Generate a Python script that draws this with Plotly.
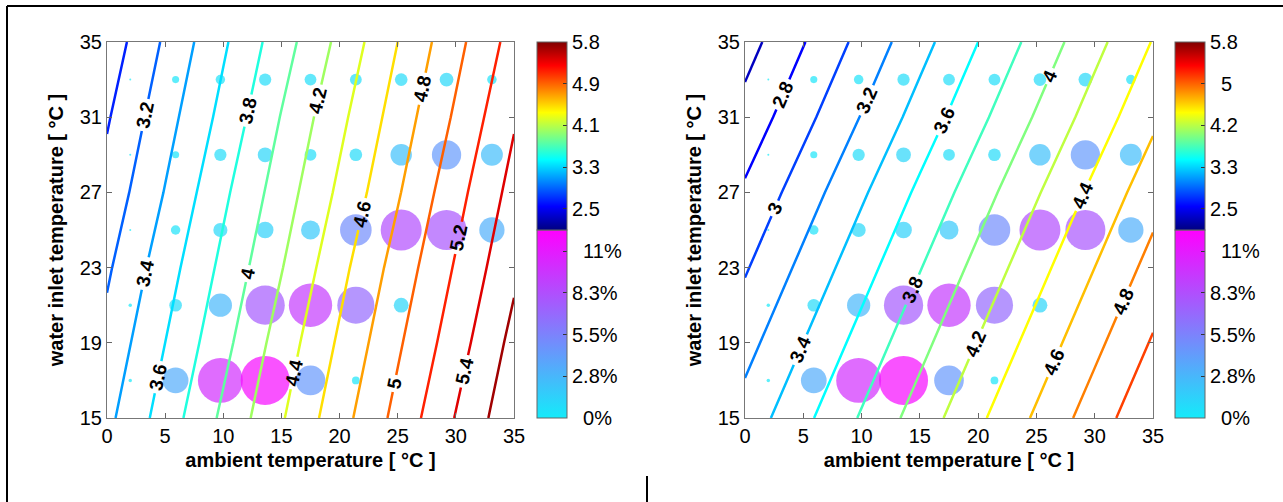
import plotly.graph_objects as go

W, H = 1283, 502
FONT = "Liberation Sans, Arial, sans-serif"

# ---- contour field (COP) ----
amb_grid = [0, 5, 10, 15, 20, 25, 30, 35]
inlet_grid = [15, 19, 23, 27, 31, 35]

cop_left = [
    [3.35, 3.69, 4.04, 4.38, 4.72, 5.06, 5.41, 5.75],
    [3.26, 3.60, 3.94, 4.29, 4.63, 4.97, 5.31, 5.66],
    [3.17, 3.51, 3.85, 4.19, 4.54, 4.88, 5.22, 5.56],
    [3.07, 3.41, 3.76, 4.10, 4.44, 4.78, 5.13, 5.47],
    [2.98, 3.32, 3.66, 4.01, 4.35, 4.69, 5.03, 5.38],
    [2.88, 3.23, 3.57, 3.91, 4.25, 4.60, 4.94, 5.28],
]
cop_right = [
    [3.28, 3.55, 3.82, 4.09, 4.36, 4.63, 4.90, 5.17],
    [3.13, 3.40, 3.67, 3.94, 4.21, 4.48, 4.75, 5.02],
    [2.98, 3.25, 3.52, 3.79, 4.06, 4.33, 4.60, 4.87],
    [2.83, 3.10, 3.37, 3.64, 3.91, 4.18, 4.45, 4.72],
    [2.67, 2.94, 3.21, 3.48, 3.75, 4.02, 4.29, 4.56],
    [2.52, 2.79, 3.06, 3.33, 3.60, 3.87, 4.14, 4.41],
]

# ---- bubbles: share of operating hours [%] ----
bubble_amb = [2.0, 5.9, 9.75, 13.6, 17.5, 21.4, 25.3, 29.2, 33.1]
bubble_inlet = [17, 21, 25, 29, 33]
share = [
    [0.06, 3.3, 10.1, 12.0, 4.4, 0.3, 0, 0, 0],
    [0.06, 0.8, 2.7, 7.7, 9.4, 6.9, 1.1, 0, 0],
    [0.02, 0.45, 1.0, 1.4, 1.8, 5.0, 8.4, 8.0, 3.2],
    [0.02, 0.25, 0.75, 1.1, 0.7, 0.8, 2.3, 4.3, 2.4],
    [0.02, 0.25, 0.45, 0.75, 0.7, 0.7, 0.8, 0.95, 0.45],
]

# ---- colorbar tick labels ----
cop_ticks = [2.5, 3.325, 4.15, 4.975, 5.8]
cop_ticktext_left = ["2.5", "3.3", "4.1", "4.9", "5.8"]
cop_ticktext_right = ["2.5", "3.3", "4.2", "\u00a0\u00a05", "5.8"]
share_ticks = [0, 2.775, 5.55, 8.325, 11.1]
share_ticktext = ["\u00a0\u00a00%", "2.8%", "5.5%", "8.3%", "\u00a0\u00a011%"]

x_ticks = [0, 5, 10, 15, 20, 25, 30, 35]
y_ticks = [15, 19, 23, 27, 31, 35]

jet = [[0, "rgb(0,0,128)"], [0.125, "rgb(0,0,255)"], [0.375, "rgb(0,255,255)"],
       [0.625, "rgb(255,255,0)"], [0.875, "rgb(255,0,0)"], [1, "rgb(128,0,0)"]]
cool = [[0, "rgb(20,235,250)"], [1, "rgb(255,0,255)"]]

bx, by, bv = [], [], []
for i, yy in enumerate(bubble_inlet):
    for j, xx in enumerate(bubble_amb):
        if share[i][j] > 0:
            bx.append(xx); by.append(yy); bv.append(share[i][j])


def px_x(p):
    return p / W


def px_y(p):
    return 1 - p / H


panels = [
    dict(xa="x", ya="y", xo="x3", yo="y3", z=cop_left, zmin=2.5, zmax=5.75,
         cbx=537, ticktext=cop_ticktext_left, dom=[107, 514]),
    dict(xa="x2", ya="y2", xo="x4", yo="y4", z=cop_right, zmin=2.4, zmax=5.75,
         cbx=1175, ticktext=cop_ticktext_right, dom=[745, 1153]),
]

fig = go.Figure()
tickfont = dict(size=20, family=FONT, color="black")

for p in panels:
    cb_common = dict(x=px_x(p["cbx"]), xanchor="left", xpad=0, ypad=0,
                     lenmode="pixels", len=188, thicknessmode="pixels", thickness=30,
                     outlinewidth=1, outlinecolor="#666", ticks="inside", ticklen=4,
                     tickcolor="#333", tickfont=tickfont, yanchor="top")
    # bubbles
    fig.add_trace(go.Scatter(
        x=bx, y=by, mode="markers", xaxis=p["xa"], yaxis=p["ya"], hoverinfo="skip",
        marker=dict(size=bv, sizemode="area", sizeref=0.01, color=bv,
                    colorscale=cool, cmin=0, cmax=12.5, line=dict(width=0),
                    showscale=True,
                    colorbar=dict(cb_common, y=px_y(230), tickvals=share_ticks,
                                  ticktext=share_ticktext))))
    # colorbar for COP (jet)
    fig.add_trace(go.Scatter(
        x=[None], y=[None], mode="markers", xaxis=p["xa"], yaxis=p["ya"], hoverinfo="skip",
        marker=dict(color=[3.0], colorscale=jet, cmin=2.084, cmax=5.8, showscale=True,
                    colorbar=dict(cb_common, y=px_y(42), tickvals=cop_ticks,
                                  ticktext=p["ticktext"]))))
    # contour lines on top (overlay axes)
    fig.add_trace(go.Contour(
        x=amb_grid, y=inlet_grid, z=p["z"], xaxis=p["xo"], yaxis=p["yo"],
        autocontour=False,
        contours=dict(start=2.0, end=6.0, size=0.2, coloring="lines", showlabels=True,
                      labelfont=dict(size=19, color="black", family=FONT, weight="bold"),
                      labelformat=".2~g"),
        colorscale=jet, zmin=p["zmin"], zmax=p["zmax"], zauto=False,
        line=dict(width=2.5, smoothing=0), showscale=False, hoverinfo="skip"))

axis_title_font = dict(size=20, family=FONT, color="black", weight="bold")


def xaxis(dom):
    return dict(domain=[px_x(dom[0]), px_x(dom[1])], range=[0, 35], tickvals=x_ticks,
                ticks="inside", ticklen=5, tickcolor="#666", showline=True,
                linecolor="#777", linewidth=1, mirror="ticks", showgrid=False,
                zeroline=False, tickfont=tickfont,
                title=dict(text="ambient temperature [ °C ]", font=axis_title_font, standoff=6))


def yaxis():
    return dict(domain=[px_y(418), px_y(42)], range=[15, 35], tickvals=y_ticks,
                ticks="inside", ticklen=5, tickcolor="#666", showline=True,
                linecolor="#777", linewidth=1, mirror="ticks", showgrid=False,
                zeroline=False, tickfont=tickfont,
                title=dict(text="water inlet temperature [ °C ]", font=axis_title_font, standoff=10))


fig.update_layout(
    width=W, height=H, margin=dict(l=0, r=0, t=0, b=0, autoexpand=False),
    paper_bgcolor="white", plot_bgcolor="white", showlegend=False,
    font=dict(family=FONT, color="black"),
    xaxis=dict(xaxis(panels[0]["dom"]), anchor="y"),
    yaxis=dict(yaxis(), anchor="x"),
    xaxis2=dict(xaxis(panels[1]["dom"]), anchor="y2"),
    yaxis2=dict(yaxis(), anchor="x2"),
    xaxis3=dict(overlaying="x", range=[0, 35], visible=False, anchor="y3"),
    yaxis3=dict(overlaying="y", range=[15, 35], visible=False, anchor="x3"),
    xaxis4=dict(overlaying="x2", range=[0, 35], visible=False, anchor="y4"),
    yaxis4=dict(overlaying="y2", range=[15, 35], visible=False, anchor="x4"),
    shapes=[
        dict(type="line", xref="paper", yref="paper", x0=px_x(7), x1=1, y0=px_y(6), y1=px_y(6),
             line=dict(color="black", width=2)),
        dict(type="line", xref="paper", yref="paper", x0=px_x(7), x1=px_x(7), y0=px_y(6), y1=0,
             line=dict(color="black", width=2)),
        dict(type="line", xref="paper", yref="paper", x0=px_x(647), x1=px_x(647), y0=px_y(476), y1=0,
             line=dict(color="black", width=2)),
    ],
)

fig.write_html("out.html", config={"displayModeBar": False},
               post_script="document.body.style.margin='0px';document.body.style.overflow='hidden';")
